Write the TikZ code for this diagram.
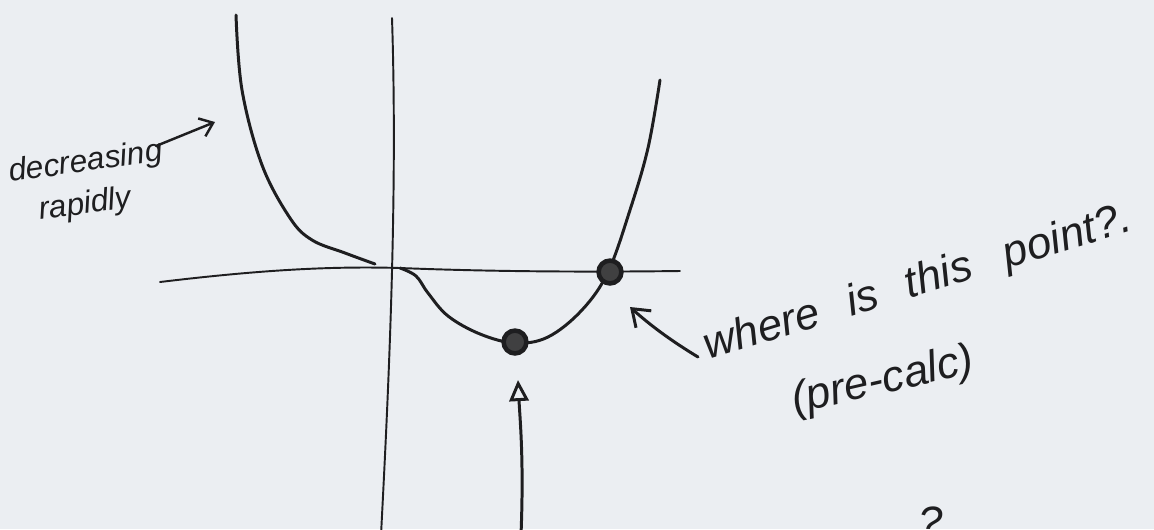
\documentclass[tikz,border=0pt]{standalone}
\usepackage{fontspec}
\setmainfont{Liberation Sans}
\usetikzlibrary{arrows.meta}
\definecolor{bg}{RGB}{235,238,242}
\definecolor{ink}{RGB}{30,30,32}
\tikzset{
  pen/.style={draw=ink, line width=1.7pt, line cap=round, line join=round},
  axisline/.style={draw=ink, line width=1.1pt, line cap=round},
  hand/.style={text=ink, font=\fontsize{18}{21}\selectfont\itshape, inner sep=0pt},
  bighand/.style={text=ink, font=\fontsize{25}{29}\selectfont\itshape, inner sep=0pt},
  dot/.style={circle, draw=ink, line width=2.6pt, fill=ink!85, minimum size=13pt, inner sep=0pt},
}
\begin{document}
\begin{tikzpicture}[x=0.02cm, y=-0.02cm]
\useasboundingbox (0,0) rectangle (1154,529);
\fill[bg] (0,0) rectangle (1154,529);
\clip (0,0) rectangle (1154,529);
% axes
\draw[axisline] (392,18) .. controls (398,200) and (388,400) .. (381,535);
\draw[axisline] (160,282) .. controls (260,270) and (330,266) .. (400,268)
   .. controls (500,272) and (600,272) .. (680,271);
% curve left branch
\draw[pen] plot[smooth, tension=0.6] coordinates {(236,15) (242,90) (262,165) (290,218) (312,240) (345,253) (375,264)};
% curve right part
\draw[pen] plot[smooth, tension=0.6] coordinates {(400,268) (416,276) (428,293) (448,316) (480,334) (515,343) (548,337) (582,310) (608,272) (630,210) (648,148) (660,80)};
% marked points
\node[dot] (minpt) at (515,342) {};
\node[dot] (root) at (610,272) {};
% arrow from below to minimum
\coordinate (below) at (521,535);
\coordinate (tipA) at (518,380);
\draw[pen, -{Triangle[open, length=12pt, width=11pt, line width=1.7pt]}] (below) .. controls (524,460) and (520,420) .. (tipA);
% arrow to root
\coordinate (qstart) at (698,357);
\coordinate (qtip) at (630,307);
\draw[pen, -{Straight Barb[length=9pt, width=13pt, line width=1.7pt]}] (qstart) .. controls (670,340) and (650,325) .. (qtip);
% text
\node[hand, rotate=8, anchor=base west] (dec) at (10,182) {decreasing};
\node[hand, rotate=8, anchor=base west] (rap) at (40,220) {rapidly};
\coordinate (decend) at (156,146);
\coordinate (dectip) at (215,122);
\draw[pen, line width=1.4pt, -{Straight Barb[length=7pt, width=11pt, line width=1.4pt]}] (decend) -- (dectip);
\node[bighand, rotate=17, anchor=base west] (where) at (708,360) {where\hspace{0.4em} is\hspace{0.4em} this\hspace{0.5em} point?.};
\node[bighand, rotate=13, anchor=base west] (calc) at (795,414) {(pre-calc)};
\node[bighand, anchor=north west] (qm) at (918,506) {?};
\end{tikzpicture}
\end{document}
